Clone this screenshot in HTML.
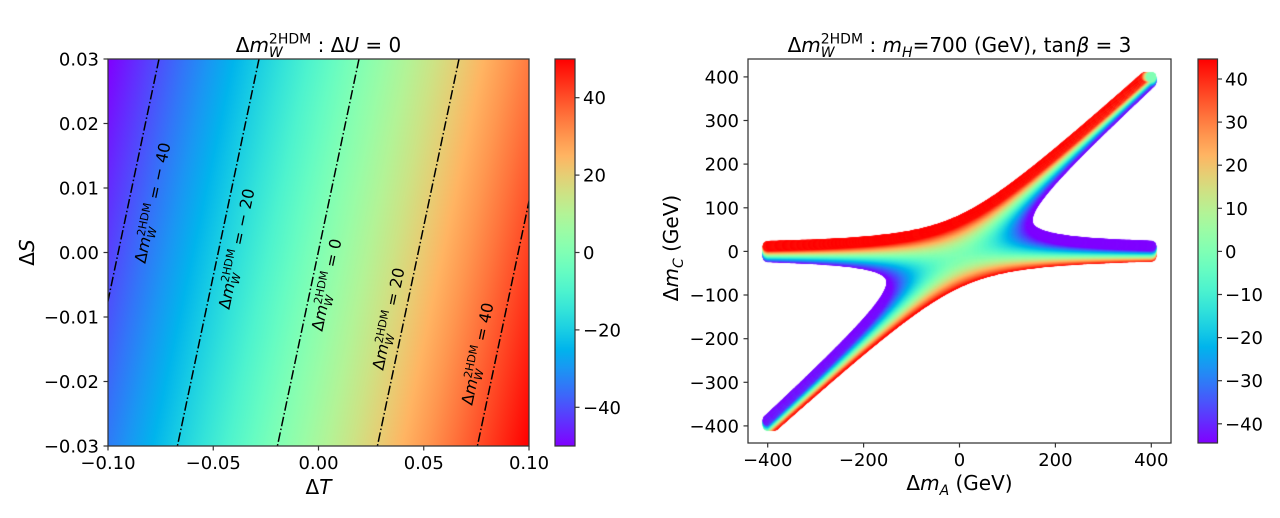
<!DOCTYPE html>
<html><head><meta charset="utf-8">
<style>
html,body{margin:0;padding:0;background:#fff}
body{width:1280px;height:518px;overflow:hidden;position:relative}
svg{position:absolute;left:0;top:0}
canvas{position:absolute;left:748px;top:59px}
text{font-family:"DejaVu Sans","Liberation Sans",sans-serif;fill:#000}
</style></head>
<body>
<canvas id="c" width="423" height="384"></canvas>
<svg width="1280" height="518" viewBox="0 0 1280 518" xmlns="http://www.w3.org/2000/svg">
<defs>
<linearGradient id="hm" gradientUnits="userSpaceOnUse" x1="109" y1="59" x2="587.7" y2="159.9">
<stop offset="0" stop-color="#8000ff"/><stop offset="0.05" stop-color="#6628fe"/><stop offset="0.1" stop-color="#4d4ffc"/><stop offset="0.15" stop-color="#3374f8"/><stop offset="0.2" stop-color="#1a96f3"/><stop offset="0.25" stop-color="#00b4ec"/><stop offset="0.3" stop-color="#1acee3"/><stop offset="0.35" stop-color="#33e3d9"/><stop offset="0.4" stop-color="#4df3ce"/><stop offset="0.45" stop-color="#66fcc2"/><stop offset="0.5" stop-color="#80ffb4"/><stop offset="0.55" stop-color="#99fca6"/><stop offset="0.6" stop-color="#b3f396"/><stop offset="0.65" stop-color="#cce385"/><stop offset="0.7" stop-color="#e6ce74"/><stop offset="0.75" stop-color="#ffb462"/><stop offset="0.8" stop-color="#ff964f"/><stop offset="0.85" stop-color="#ff743c"/><stop offset="0.9" stop-color="#ff4f28"/><stop offset="0.95" stop-color="#ff2814"/><stop offset="1" stop-color="#ff0000"/>
</linearGradient>
<linearGradient id="cb" x1="0" y1="1" x2="0" y2="0">
<stop offset="0" stop-color="#8000ff"/><stop offset="0.05" stop-color="#6628fe"/><stop offset="0.1" stop-color="#4d4ffc"/><stop offset="0.15" stop-color="#3374f8"/><stop offset="0.2" stop-color="#1a96f3"/><stop offset="0.25" stop-color="#00b4ec"/><stop offset="0.3" stop-color="#1acee3"/><stop offset="0.35" stop-color="#33e3d9"/><stop offset="0.4" stop-color="#4df3ce"/><stop offset="0.45" stop-color="#66fcc2"/><stop offset="0.5" stop-color="#80ffb4"/><stop offset="0.55" stop-color="#99fca6"/><stop offset="0.6" stop-color="#b3f396"/><stop offset="0.65" stop-color="#cce385"/><stop offset="0.7" stop-color="#e6ce74"/><stop offset="0.75" stop-color="#ffb462"/><stop offset="0.8" stop-color="#ff964f"/><stop offset="0.85" stop-color="#ff743c"/><stop offset="0.9" stop-color="#ff4f28"/><stop offset="0.95" stop-color="#ff2814"/><stop offset="1" stop-color="#ff0000"/>
</linearGradient>
<clipPath id="clipL"><rect x="108" y="59" width="421" height="387"/></clipPath>
</defs>

<!-- LEFT HEATMAP -->
<rect x="108" y="59" width="421" height="387" fill="url(#hm)"/>
<g clip-path="url(#clipL)" stroke="#000" stroke-width="1.5" stroke-dasharray="9.6 2.4 1.5 2.4" fill="none">
<line x1="159" y1="59" x2="77.4" y2="446"/>
<line x1="259" y1="59" x2="177.4" y2="446"/>
<line x1="359" y1="59" x2="277.4" y2="446"/>
<line x1="459" y1="59" x2="377.4" y2="446"/>
<line x1="559" y1="59" x2="477.4" y2="446"/>
</g>
<!-- contour labels -->
<g font-size="16">
<g transform="translate(153,203) rotate(-78.1)"><text x="0" y="5" text-anchor="middle">Δ<tspan font-style="italic">m</tspan><tspan font-size="11.2" dy="-6.5">2HDM</tspan><tspan font-size="11.2" font-style="italic" dx="-33.8" dy="10.5">W</tspan><tspan dx="22.7" dy="-4"> = − 40</tspan></text></g>
<g transform="translate(237,249) rotate(-78.1)"><text x="0" y="5" text-anchor="middle">Δ<tspan font-style="italic">m</tspan><tspan font-size="11.2" dy="-6.5">2HDM</tspan><tspan font-size="11.2" font-style="italic" dx="-33.8" dy="10.5">W</tspan><tspan dx="22.7" dy="-4"> = − 20</tspan></text></g>
<g transform="translate(327,285) rotate(-78.1)"><text x="0" y="5" text-anchor="middle">Δ<tspan font-style="italic">m</tspan><tspan font-size="11.2" dy="-6.5">2HDM</tspan><tspan font-size="11.2" font-style="italic" dx="-33.8" dy="10.5">W</tspan><tspan dx="22.7" dy="-4"> = 0</tspan></text></g>
<g transform="translate(389,319) rotate(-78.1)"><text x="0" y="5" text-anchor="middle">Δ<tspan font-style="italic">m</tspan><tspan font-size="11.2" dy="-6.5">2HDM</tspan><tspan font-size="11.2" font-style="italic" dx="-33.8" dy="10.5">W</tspan><tspan dx="22.7" dy="-4"> = 20</tspan></text></g>
<g transform="translate(478,354) rotate(-78.1)"><text x="0" y="5" text-anchor="middle">Δ<tspan font-style="italic">m</tspan><tspan font-size="11.2" dy="-6.5">2HDM</tspan><tspan font-size="11.2" font-style="italic" dx="-33.8" dy="10.5">W</tspan><tspan dx="22.7" dy="-4"> = 40</tspan></text></g>
</g>

<!-- left frame -->
<rect x="108" y="59" width="421" height="387" fill="none" stroke="#333" stroke-width="1.25"/>
<g stroke="#333" stroke-width="1.2">
<line x1="103.5" y1="59" x2="108" y2="59"/><line x1="103.5" y1="123.5" x2="108" y2="123.5"/><line x1="103.5" y1="188" x2="108" y2="188"/><line x1="103.5" y1="252.5" x2="108" y2="252.5"/><line x1="103.5" y1="317" x2="108" y2="317"/><line x1="103.5" y1="381.5" x2="108" y2="381.5"/><line x1="103.5" y1="446" x2="108" y2="446"/>
<line x1="108" y1="446" x2="108" y2="450.5"/><line x1="213.25" y1="446" x2="213.25" y2="450.5"/><line x1="318.5" y1="446" x2="318.5" y2="450.5"/><line x1="423.75" y1="446" x2="423.75" y2="450.5"/><line x1="529" y1="446" x2="529" y2="450.5"/>
</g>
<g font-size="18" text-anchor="end">
<text x="99" y="65.5">0.03</text><text x="99" y="130">0.02</text><text x="99" y="194.5">0.01</text><text x="99" y="259">0.00</text><text x="99" y="323.5">−0.01</text><text x="99" y="388">−0.02</text><text x="99" y="452.5">−0.03</text>
</g>
<g font-size="18" text-anchor="middle">
<text x="108" y="469">−0.10</text><text x="213.25" y="469">−0.05</text><text x="318.5" y="469">0.00</text><text x="423.75" y="469">0.05</text><text x="529" y="469">0.10</text>
</g>
<text x="318.5" y="494" font-size="20" text-anchor="middle">Δ<tspan font-style="italic">T</tspan></text>
<g transform="translate(34,252.5) rotate(-90)"><text x="0" y="0" font-size="20" text-anchor="middle">Δ<tspan font-style="italic">S</tspan></text></g>
<text x="318.5" y="52" font-size="20" text-anchor="middle">Δ<tspan font-style="italic">m</tspan><tspan font-size="14" dy="-8.4">2HDM</tspan><tspan font-size="14" font-style="italic" dx="-42.3" dy="13.4">W</tspan><tspan dx="28.5" dy="-5"> : Δ</tspan><tspan font-style="italic">U</tspan><tspan> = 0</tspan></text>

<!-- left colorbar -->
<rect x="555" y="59" width="20" height="387" fill="url(#cb)" stroke="#333" stroke-width="1.2"/>
<g stroke="#333" stroke-width="1.2">
<line x1="575" y1="97.7" x2="579.5" y2="97.7"/><line x1="575" y1="175.1" x2="579.5" y2="175.1"/><line x1="575" y1="252.5" x2="579.5" y2="252.5"/><line x1="575" y1="329.9" x2="579.5" y2="329.9"/><line x1="575" y1="407.3" x2="579.5" y2="407.3"/>
</g>
<g font-size="18">
<text x="583" y="104.2">40</text><text x="583" y="181.6">20</text><text x="583" y="259">0</text><text x="583" y="336.4">−20</text><text x="583" y="413.8">−40</text>
</g>

<!-- RIGHT PLOT frame -->
<rect x="748" y="59" width="423" height="384" fill="none" stroke="#333" stroke-width="1.25"/>
<g stroke="#333" stroke-width="1.2">
<line x1="743.5" y1="76.9" x2="748" y2="76.9"/><line x1="743.5" y1="120.5" x2="748" y2="120.5"/><line x1="743.5" y1="164.1" x2="748" y2="164.1"/><line x1="743.5" y1="207.8" x2="748" y2="207.8"/><line x1="743.5" y1="251.4" x2="748" y2="251.4"/><line x1="743.5" y1="295" x2="748" y2="295"/><line x1="743.5" y1="338.7" x2="748" y2="338.7"/><line x1="743.5" y1="382.3" x2="748" y2="382.3"/><line x1="743.5" y1="425.9" x2="748" y2="425.9"/>
<line x1="767.7" y1="443" x2="767.7" y2="447.5"/><line x1="863.6" y1="443" x2="863.6" y2="447.5"/><line x1="959.5" y1="443" x2="959.5" y2="447.5"/><line x1="1055.4" y1="443" x2="1055.4" y2="447.5"/><line x1="1151.3" y1="443" x2="1151.3" y2="447.5"/>
</g>
<g font-size="18" text-anchor="end">
<text x="739" y="83.4">400</text><text x="739" y="127">300</text><text x="739" y="170.6">200</text><text x="739" y="214.3">100</text><text x="739" y="257.9">0</text><text x="739" y="301.5">−100</text><text x="739" y="345.2">−200</text><text x="739" y="388.8">−300</text><text x="739" y="432.4">−400</text>
</g>
<g font-size="18" text-anchor="middle">
<text x="767.7" y="466">−400</text><text x="863.6" y="466">−200</text><text x="959.5" y="466">0</text><text x="1055.4" y="466">200</text><text x="1151.3" y="466">400</text>
</g>
<text x="959.5" y="490" font-size="20" text-anchor="middle">Δ<tspan font-style="italic">m</tspan><tspan font-size="14" font-style="italic" dy="5">A</tspan><tspan dy="-5"> (GeV)</tspan></text>
<g transform="translate(678,248) rotate(-90)"><text x="0" y="0" font-size="20" text-anchor="middle">Δ<tspan font-style="italic">m</tspan><tspan font-size="14" font-style="italic" dy="5">C</tspan><tspan dy="-5"> (GeV)</tspan></text></g>
<text x="959.5" y="52" font-size="20" text-anchor="middle">Δ<tspan font-style="italic">m</tspan><tspan font-size="14" dy="-8.4">2HDM</tspan><tspan font-size="14" font-style="italic" dx="-42.3" dy="13.4">W</tspan><tspan dx="28.5" dy="-5"> : </tspan><tspan font-style="italic">m</tspan><tspan font-size="14" font-style="italic" dy="5">H</tspan><tspan dy="-5">=700 (GeV), tan</tspan><tspan font-style="italic">β</tspan><tspan> = 3</tspan></text>

<!-- right colorbar -->
<rect x="1198" y="59" width="19.5" height="384" fill="url(#cb)" stroke="#333" stroke-width="1.2"/>
<g stroke="#333" stroke-width="1.2">
<line x1="1217.5" y1="79" x2="1222" y2="79"/><line x1="1217.5" y1="122.1" x2="1222" y2="122.1"/><line x1="1217.5" y1="165.2" x2="1222" y2="165.2"/><line x1="1217.5" y1="208.3" x2="1222" y2="208.3"/><line x1="1217.5" y1="251.4" x2="1222" y2="251.4"/><line x1="1217.5" y1="294.5" x2="1222" y2="294.5"/><line x1="1217.5" y1="337.6" x2="1222" y2="337.6"/><line x1="1217.5" y1="380.7" x2="1222" y2="380.7"/><line x1="1217.5" y1="423.8" x2="1222" y2="423.8"/>
</g>
<g font-size="18">
<text x="1225" y="85.5">40</text><text x="1225" y="128.6">30</text><text x="1225" y="171.7">20</text><text x="1225" y="214.8">10</text><text x="1225" y="257.9">0</text><text x="1225" y="301">−10</text><text x="1225" y="344.1">−20</text><text x="1225" y="387.2">−30</text><text x="1225" y="430.3">−40</text>
</g>
</svg>
<script>
(function(){
var cv=document.getElementById('c'),ctx=cv.getContext('2d');
var X0=211.5,Y0=192.4,SX=0.4794,SY=0.4363,R=5;
var mH=700,H2=mH*mH,DTH=6700,VM=44.5;
function F(x,y){var d=x-y;if(Math.abs(d)<1e-9*y)return 0;return (x+y)/2-x*y/d*Math.log(x/y);}
function col(f){if(f<0)f=0;if(f>1)f=1;var r=Math.min(1,Math.abs(2*f-0.5)),g=Math.sin(Math.PI*f),b=Math.cos(Math.PI*f/2);return 'rgb('+Math.round(r*255)+','+Math.round(g*255)+','+Math.round(b*255)+')';}
for(var c=-400;c<=400;c+=0.5){
  var C=(mH+c)*(mH+c);var FCH=F(C,H2);
  for(var a=-400;a<=400;a+=2){
    var A=(mH+a)*(mH+a);
    var D=F(C,A)+FCH-F(A,H2);
    if(D>DTH||D<-DTH)continue;
    ctx.fillStyle=col((D/DTH*VM+VM)/(2*VM));
    ctx.beginPath();ctx.arc(X0+SX*a,Y0-SY*c,R,0,6.2832);ctx.fill();
  }
}
})();
</script>
</body></html>
